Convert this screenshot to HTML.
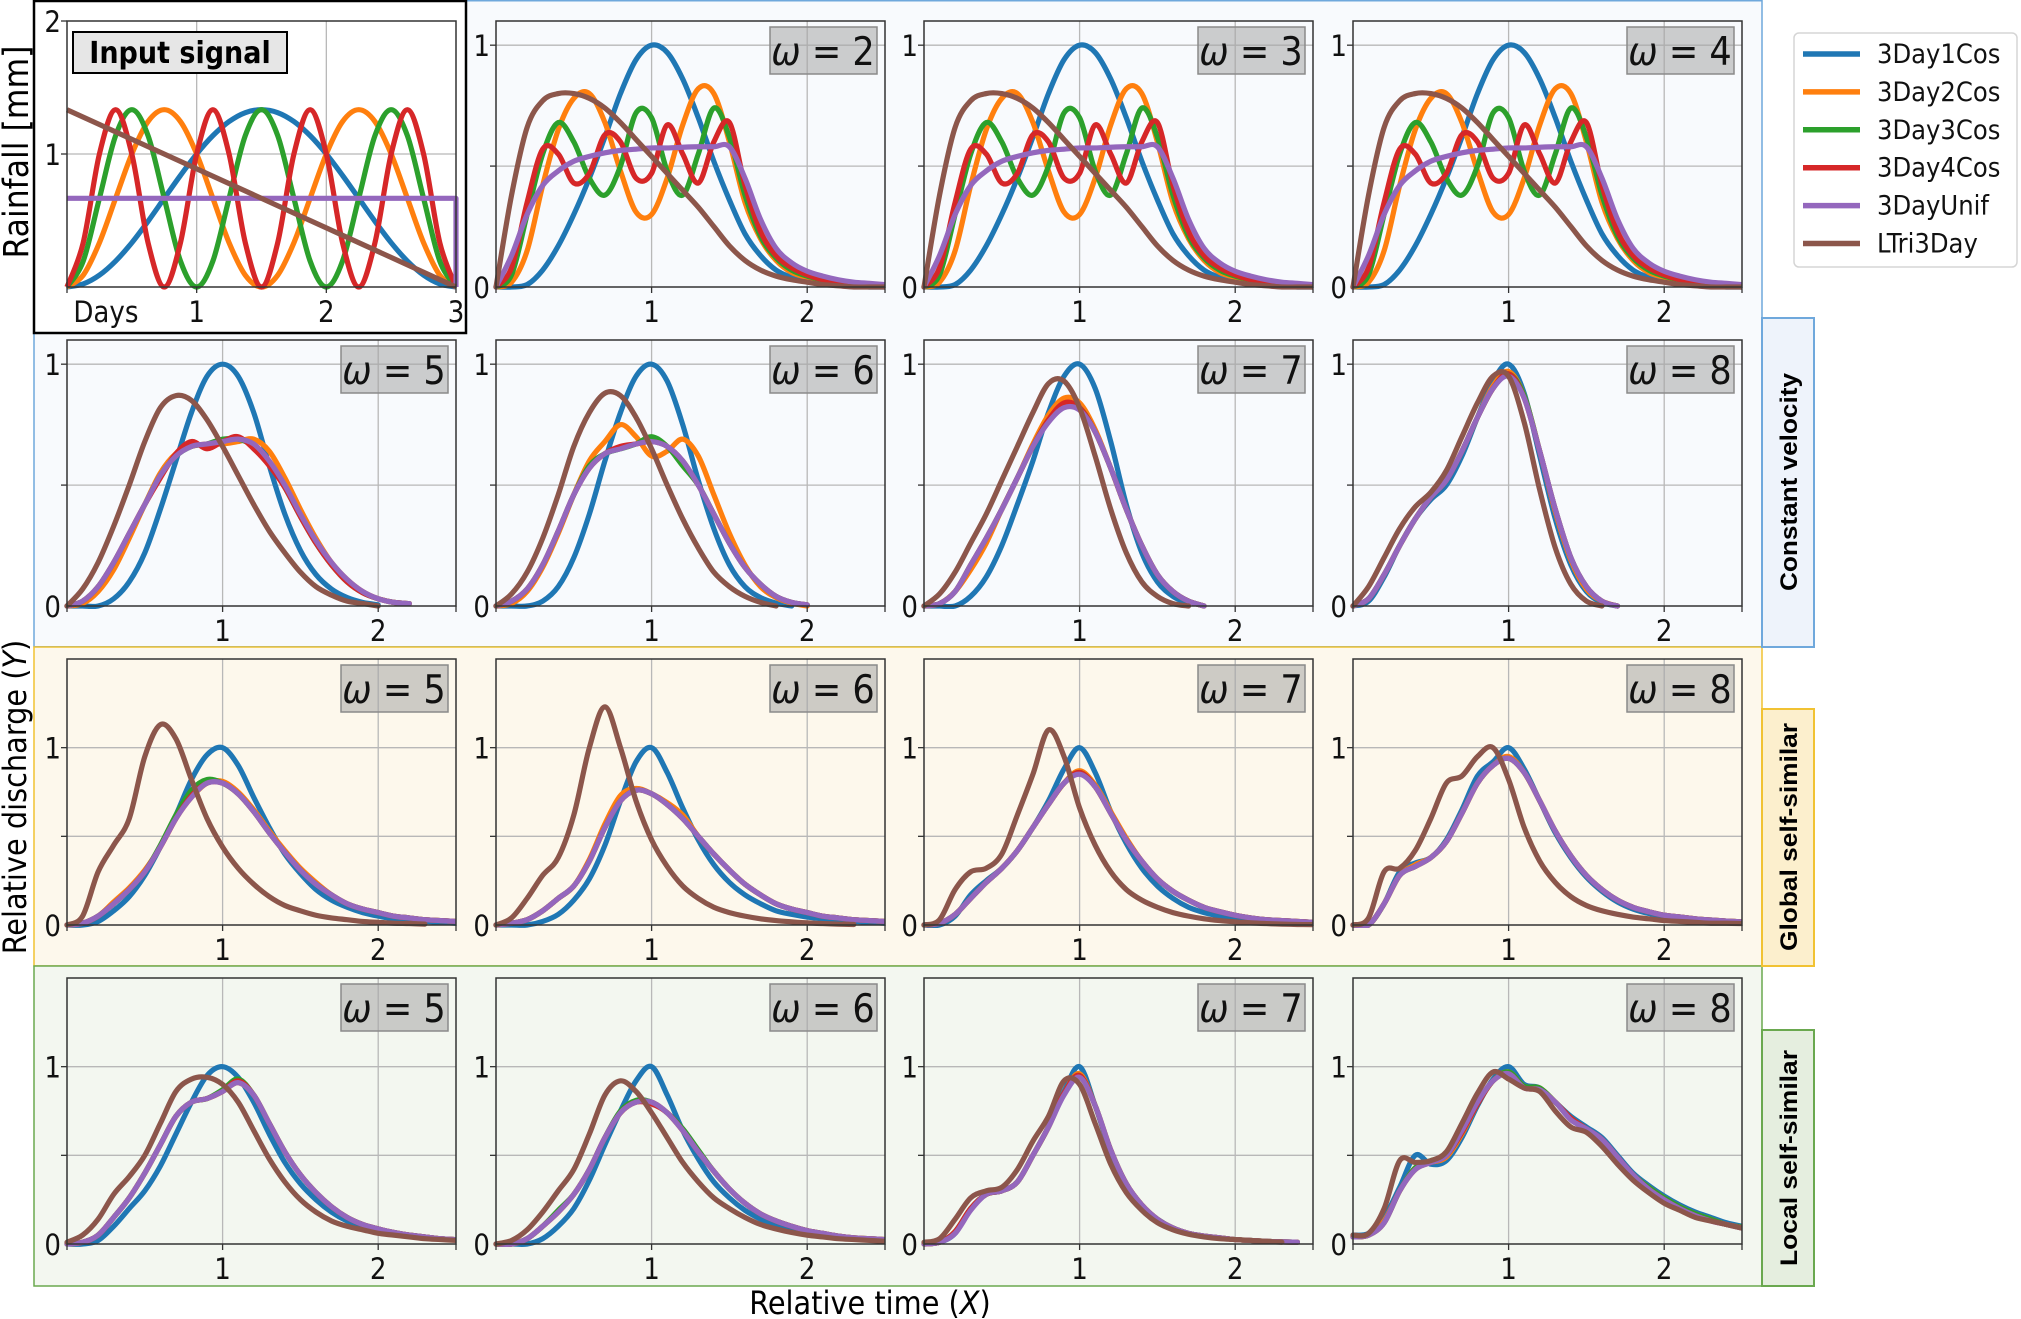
<!DOCTYPE html>
<html><head><meta charset="utf-8"><title>Relative discharge figure</title>
<style>
html,body{margin:0;padding:0;background:#fff;}
svg{display:block;font-family:"DejaVu Sans Condensed","DejaVu Sans","Liberation Sans",sans-serif;}
</style></head>
<body>
<svg id="fig" width="2021" height="1319" viewBox="0 0 2021 1319" xmlns="http://www.w3.org/2000/svg">
  <rect x="0" y="0" width="2021" height="1319" fill="#fff"/>
  <rect x="34" y="0.75" width="1728" height="646" fill="#f8fafd" stroke="#6fa8dc" stroke-width="1.5"/>
  <rect x="34" y="647" width="1728" height="319" fill="#fdf8ec" stroke="#f1c232" stroke-width="1.5"/>
  <rect x="34" y="966" width="1728" height="320" fill="#f3f7f0" stroke="#6aa84f" stroke-width="1.5"/>
  <rect x="34" y="1" width="432" height="332" fill="#fff" stroke="#000" stroke-width="2.5"/>

  <g>
    <rect x="1762" y="318" width="52" height="329" fill="#eef3fb" stroke="#6fa8dc" stroke-width="2"/>
    <text transform="translate(1797,482) rotate(-90)" text-anchor="middle" font-family="Liberation Sans, sans-serif" font-weight="bold" font-size="24" textLength="218" lengthAdjust="spacingAndGlyphs">Constant velocity</text>
  </g>
  <g>
    <rect x="1762" y="709" width="52" height="257" fill="#fcefcd" stroke="#f1c232" stroke-width="2"/>
    <text transform="translate(1797,837) rotate(-90)" text-anchor="middle" font-family="Liberation Sans, sans-serif" font-weight="bold" font-size="24" textLength="228" lengthAdjust="spacingAndGlyphs">Global self-similar</text>
  </g>
  <g>
    <rect x="1762" y="1030" width="52" height="256" fill="#e5eedf" stroke="#6aa84f" stroke-width="2"/>
    <text transform="translate(1797,1158) rotate(-90)" text-anchor="middle" font-family="Liberation Sans, sans-serif" font-weight="bold" font-size="24" textLength="216" lengthAdjust="spacingAndGlyphs">Local self-similar</text>
  </g>

  <text transform="translate(26,797) rotate(-90)" text-anchor="middle" font-size="32">Relative discharge (<tspan font-style="italic">Y</tspan>)</text>
  <text transform="translate(28,152) rotate(-90)" text-anchor="middle" font-size="35">Rainfall [mm]</text>
  <text x="870" y="1314" text-anchor="middle" font-size="32">Relative time (<tspan font-style="italic">X</tspan>)</text>

  <g id="panels"></g>

  <g>
    <rect x="1794" y="33" width="223" height="234" rx="5" fill="#fff" stroke="#d5d5d5" stroke-width="1.5"/>
    <g id="legend-items"></g>
  </g>
</svg>
<script>
// ---------- data ----------
const seriesNames = ['3Day1Cos','3Day2Cos','3Day3Cos','3Day4Cos','3DayUnif','LTri3Day'];
const seriesKeys = ['blue','orange','green','red','purple','brown'];
const seriesColors = ['#1f77b4','#ff7f0e','#2ca02c','#d62728','#9467bd','#8c564b'];

// input signal (days 0..3 step 0.125)
const inX = [0,0.125,0.25,0.375,0.5,0.625,0.75,0.875,1,1.125,1.25,1.375,1.5,1.625,1.75,1.875,2,2.125,2.25,2.375,2.5,2.625,2.75,2.875,3];
const in_blue = [0,.023,.089,.195,.333,.494,.667,.839,1.0,1.138,1.244,1.311,1.333,1.311,1.244,1.138,1.0,.839,.667,.494,.333,.195,.089,.023,0];
const in_orange = [0,.089,.333,.667,1.0,1.244,1.333,1.244,1.0,.667,.333,.089,0,.089,.333,.667,1.0,1.244,1.333,1.244,1.0,.667,.333,.089,0];
const in_green = [0,.195,.667,1.138,1.333,1.138,.667,.195,0,.195,.667,1.138,1.333,1.138,.667,.195,0,.195,.667,1.138,1.333,1.138,.667,.195,0];
const in_red = [0,.333,1.0,1.333,1.0,.333,0,.333,1.0,1.333,1.0,.333,0,.333,1.0,1.333,1.0,.333,0,.333,1.0,1.333,1.0,.333,0];
const in_purple = [.667,.667,.667,.667,.667,.667,.667,.667,.667,.667,.667,.667,.667,.667,.667,.667,.667,.667,.667,.667,.667,.667,.667,.667,.667];
const in_brownX = [0,3];
const in_brown = [1.333,0];

// relative time grid 0..2.5 step 0.1
const xs = [0,.1,.2,.3,.4,.5,.6,.7,.8,.9,1,1.1,1.2,1.3,1.4,1.5,1.6,1.7,1.8,1.9,2,2.1,2.2,2.3,2.4,2.5];

// Row 1 (constant velocity, omega 2-4)
const r1_blue = [0,0,.01,.07,.17,.3,.45,.62,.8,.94,1.0,.97,.86,.7,.52,.36,.22,.13,.07,.04,.025,.015,.01,.005,0,0];
const r1_orange = [0,.02,.15,.42,.65,.78,.8,.68,.48,.31,.3,.45,.67,.82,.8,.6,.35,.2,.11,.06,.04,.025,.015,.01,.005,0];
const r1_green = [0,.05,.3,.55,.68,.6,.45,.38,.5,.72,.7,.48,.38,.55,.74,.62,.38,.21,.12,.07,.045,.03,.02,.012,.006,0];
const r1_red = [0,.08,.35,.57,.55,.43,.47,.63,.6,.45,.47,.67,.55,.43,.6,.68,.42,.23,.13,.08,.05,.03,.02,.012,.006,0];
const r1_purple = [0,.13,.3,.42,.48,.52,.54,.555,.565,.57,.575,.575,.578,.58,.58,.58,.45,.28,.16,.1,.065,.045,.03,.02,.015,.01];
const r1_brown = [0,.38,.66,.77,.8,.8,.78,.74,.68,.61,.54,.47,.4,.33,.25,.17,.11,.07,.045,.03,.02,.01,.005,0,0,0];

// Row 2 (constant velocity, omega 5-8)
const r2w5_blue = [0,0,0,.03,.1,.22,.4,.6,.8,.95,1.0,.95,.8,.58,.38,.23,.13,.07,.035,.015,.005,null,null,null,null,null];
const r2w5_orange = [0,.01,.06,.15,.28,.42,.55,.63,.66,.67,.67,.68,.69,.64,.53,.4,.28,.18,.11,.06,.03,.015,.01,null,null,null];
const r2w5_green = [0,.02,.08,.18,.3,.42,.54,.62,.66,.67,.69,.69,.66,.59,.49,.37,.26,.17,.1,.055,.03,.015,.01,null,null,null];
const r2w5_red = [0,.02,.08,.18,.3,.42,.53,.63,.68,.65,.68,.7,.65,.58,.49,.37,.26,.17,.1,.055,.03,.015,.01,null,null,null];
const r2w5_purple = [0,.02,.08,.18,.3,.42,.54,.62,.66,.67,.68,.69,.67,.6,.5,.38,.27,.18,.11,.06,.03,.015,.01,null,null,null];
const r2w5_brown = [.0,.07,.18,.33,.5,.68,.82,.87,.85,.77,.66,.54,.42,.31,.22,.14,.08,.045,.02,.01,0,null,null,null,null,null];

const r2w6_blue = [0,0,0,.02,.08,.2,.38,.6,.8,.95,1.0,.93,.75,.52,.32,.17,.08,.035,.012,0,null,null,null,null,null,null];
const r2w6_orange = [0,.01,.06,.16,.3,.46,.6,.68,.75,.7,.62,.64,.69,.62,.46,.3,.17,.08,.035,.012,0,null,null,null,null,null];
const r2w6_green = [0,.02,.07,.17,.31,.46,.58,.63,.65,.67,.7,.66,.58,.5,.38,.26,.16,.09,.04,.015,.005,null,null,null,null,null];
const r2w6_red = [0,.02,.07,.17,.31,.46,.57,.63,.66,.67,.68,.66,.6,.5,.38,.26,.16,.09,.04,.015,.005,null,null,null,null,null];
const r2w6_purple = [0,.02,.07,.17,.31,.46,.57,.63,.65,.67,.68,.66,.6,.5,.38,.26,.16,.09,.04,.015,.005,null,null,null,null,null];
const r2w6_brown = [0,.05,.14,.28,.46,.66,.8,.88,.87,.78,.65,.5,.36,.24,.14,.08,.04,.015,0,null,null,null,null,null,null,null];

const r2w7_blue = [0,0,0,.04,.12,.25,.42,.6,.8,.95,1.0,.9,.68,.42,.22,.1,.04,.01,null,null,null,null,null,null,null,null];
const r2w7_orange = [0,.01,.06,.15,.26,.4,.53,.67,.79,.86,.84,.73,.57,.4,.25,.13,.06,.02,0,null,null,null,null,null,null,null];
const r2w7_green = [0,.01,.06,.17,.28,.4,.53,.66,.77,.83,.82,.72,.57,.4,.25,.13,.06,.02,0,null,null,null,null,null,null,null];
const r2w7_red = [0,.01,.06,.17,.28,.4,.53,.66,.77,.84,.82,.72,.57,.4,.25,.13,.06,.02,0,null,null,null,null,null,null,null];
const r2w7_purple = [0,.01,.06,.17,.28,.4,.53,.66,.76,.82,.81,.72,.57,.4,.25,.13,.06,.02,0,null,null,null,null,null,null,null];
const r2w7_brown = [0,.05,.14,.26,.38,.52,.66,.8,.92,.93,.82,.62,.4,.22,.1,.04,.01,0,null,null,null,null,null,null,null,null];

const r2w8_blue = [0,.02,.12,.25,.36,.44,.5,.62,.78,.93,1.0,.88,.62,.36,.17,.06,.015,0,null,null,null,null,null,null,null,null];
const r2w8_orange = [0,.03,.13,.25,.36,.45,.52,.64,.78,.91,.97,.87,.64,.39,.19,.07,.02,0,null,null,null,null,null,null,null,null];
const r2w8_green = [0,.03,.13,.25,.36,.45,.52,.64,.78,.9,.96,.87,.64,.4,.2,.08,.02,0,null,null,null,null,null,null,null,null];
const r2w8_red = [0,.03,.13,.25,.36,.45,.52,.64,.78,.9,.96,.86,.64,.4,.2,.08,.02,0,null,null,null,null,null,null,null,null];
const r2w8_purple = [0,.03,.13,.25,.36,.45,.52,.64,.78,.9,.95,.86,.64,.4,.2,.08,.02,0,null,null,null,null,null,null,null,null];
const r2w8_brown = [0,.08,.2,.32,.41,.47,.56,.7,.84,.95,.95,.76,.48,.24,.09,.02,0,null,null,null,null,null,null,null,null,null];

// Row 3 (global self-similar)
const r3w5_blue = [0,0,.02,.08,.16,.28,.44,.62,.82,.96,1.0,.9,.72,.55,.4,.29,.2,.14,.1,.07,.05,.035,.025,.02,.015,.01];
const r3w5_orange = [0,.01,.05,.13,.21,.31,.44,.6,.72,.8,.81,.75,.65,.53,.42,.32,.24,.17,.12,.09,.07,.05,.04,.03,.025,.02];
const r3w5_green = [0,.01,.05,.12,.2,.3,.45,.62,.76,.82,.8,.74,.64,.52,.41,.31,.23,.17,.12,.09,.07,.05,.04,.03,.025,.02];
const r3w5_red = [0,.01,.05,.12,.2,.3,.44,.6,.73,.8,.8,.74,.64,.52,.41,.31,.23,.17,.12,.09,.07,.05,.04,.03,.025,.02];
const r3w5_purple = [0,.01,.05,.12,.2,.3,.44,.6,.72,.8,.8,.74,.64,.52,.41,.31,.23,.17,.12,.09,.07,.05,.04,.03,.025,.02];
const r3w5_brown = [0,.05,.3,.45,.6,.95,1.13,1.05,.82,.6,.44,.32,.23,.16,.11,.08,.055,.04,.03,.02,.015,.01,.008,.005,null,null];

const r3w6_blue = [0,0,0,.02,.06,.14,.26,.45,.7,.92,1.0,.86,.66,.48,.34,.24,.17,.12,.08,.06,.045,.035,.025,.02,.015,.01];
const r3w6_orange = [0,.01,.03,.08,.15,.22,.37,.57,.73,.77,.74,.69,.62,.5,.4,.31,.23,.17,.12,.09,.07,.05,.04,.03,.025,.02];
const r3w6_green = [0,.01,.03,.08,.15,.22,.36,.55,.7,.76,.74,.68,.6,.5,.4,.31,.23,.17,.12,.09,.07,.05,.04,.03,.025,.02];
const r3w6_red = [0,.01,.03,.08,.15,.22,.36,.55,.7,.76,.74,.68,.6,.5,.4,.31,.23,.17,.12,.09,.07,.05,.04,.03,.025,.02];
const r3w6_purple = [0,.01,.03,.08,.15,.22,.36,.55,.7,.76,.74,.68,.6,.5,.4,.31,.23,.17,.12,.09,.07,.05,.04,.03,.025,.02];
const r3w6_brown = [0,.04,.15,.28,.38,.62,1.0,1.23,1.0,.7,.48,.33,.22,.15,.1,.07,.05,.035,.025,.018,.012,.008,.005,.003,null,null];

const r3w7_blue = [0,0,.05,.17,.25,.32,.42,.55,.7,.88,1.0,.86,.64,.46,.32,.22,.15,.1,.07,.05,.035,.025,.02,.015,.01,.01];
const r3w7_orange = [0,.01,.06,.15,.24,.32,.42,.55,.68,.8,.87,.79,.64,.49,.36,.26,.19,.14,.1,.075,.055,.04,.03,.025,.02,.015];
const r3w7_green = [0,.01,.06,.15,.24,.32,.42,.55,.68,.8,.86,.78,.63,.48,.36,.26,.19,.14,.1,.075,.055,.04,.03,.025,.02,.015];
const r3w7_red = [0,.01,.06,.15,.24,.32,.42,.55,.68,.8,.86,.78,.63,.48,.36,.26,.19,.14,.1,.075,.055,.04,.03,.025,.02,.015];
const r3w7_purple = [0,.01,.06,.15,.24,.32,.42,.55,.68,.8,.85,.78,.63,.48,.36,.26,.19,.14,.1,.075,.055,.04,.03,.025,.02,.015];
const r3w7_brown = [0,.03,.2,.3,.32,.4,.62,.85,1.1,.95,.66,.45,.3,.2,.14,.1,.07,.05,.035,.025,.018,.012,.008,.005,.003,.002];

const r3w8_blue = [0,0,.12,.3,.35,.38,.48,.65,.84,.92,1.0,.88,.7,.52,.38,.27,.19,.13,.09,.065,.05,.04,.03,.025,.02,.015];
const r3w8_orange = [0,0,.12,.28,.34,.38,.47,.63,.8,.9,.95,.86,.7,.53,.39,.28,.2,.14,.1,.075,.055,.045,.035,.028,.022,.018];
const r3w8_green = [0,0,.12,.28,.33,.38,.47,.63,.8,.9,.94,.86,.7,.53,.39,.28,.2,.14,.1,.075,.055,.045,.035,.028,.022,.018];
const r3w8_red = [0,0,.12,.28,.33,.38,.47,.63,.8,.9,.94,.86,.7,.53,.39,.28,.2,.14,.1,.075,.055,.045,.035,.028,.022,.018];
const r3w8_purple = [0,0,.12,.28,.33,.38,.47,.63,.8,.9,.94,.86,.7,.53,.39,.28,.2,.14,.1,.075,.055,.045,.035,.028,.022,.018];
const r3w8_brown = [0,.04,.3,.32,.42,.6,.8,.84,.95,1.0,.82,.55,.36,.24,.16,.11,.08,.06,.045,.035,.025,.02,.015,.01,.01,.008];

// Row 4 (local self-similar)
const r4w5_blue = [0,0,.02,.1,.2,.3,.44,.62,.8,.95,1.0,.94,.8,.62,.46,.34,.25,.18,.13,.1,.08,.06,.05,.04,.03,.025];
const r4w5_orange = [0,.01,.05,.15,.26,.4,.56,.72,.8,.82,.86,.91,.84,.68,.52,.39,.29,.21,.15,.11,.085,.065,.05,.04,.03,.025];
const r4w5_green = [0,.01,.05,.15,.26,.4,.56,.72,.8,.82,.87,.93,.84,.68,.52,.39,.29,.21,.15,.11,.085,.065,.05,.04,.03,.025];
const r4w5_red = [0,.01,.05,.15,.26,.4,.56,.72,.8,.82,.86,.92,.84,.68,.52,.39,.29,.21,.15,.11,.085,.065,.05,.04,.03,.025];
const r4w5_purple = [0,.01,.05,.15,.26,.4,.56,.72,.8,.82,.86,.91,.84,.68,.52,.39,.29,.21,.15,.11,.085,.065,.05,.04,.03,.025];
const r4w5_brown = [.01,.05,.14,.28,.38,.5,.68,.86,.93,.94,.9,.8,.64,.48,.35,.25,.18,.13,.1,.08,.06,.05,.04,.03,.025,.02];

const r4w6_blue = [0,0,0,.03,.1,.2,.36,.56,.75,.92,1.0,.84,.64,.48,.35,.26,.19,.14,.1,.08,.06,.05,.04,.03,.025,.02];
const r4w6_orange = [0,0,.03,.1,.18,.28,.42,.6,.74,.8,.8,.74,.64,.52,.41,.31,.23,.17,.13,.1,.075,.06,.045,.035,.03,.025];
const r4w6_green = [0,0,.03,.1,.19,.28,.42,.6,.75,.81,.8,.74,.65,.53,.41,.31,.23,.17,.13,.1,.075,.06,.045,.035,.03,.025];
const r4w6_red = [0,0,.03,.1,.18,.28,.42,.6,.74,.8,.79,.74,.64,.52,.41,.31,.23,.17,.13,.1,.075,.06,.045,.035,.03,.025];
const r4w6_purple = [0,0,.03,.1,.18,.28,.42,.6,.74,.8,.8,.74,.64,.52,.41,.31,.23,.17,.13,.1,.075,.06,.045,.035,.03,.025];
const r4w6_brown = [0,.02,.08,.18,.3,.42,.62,.84,.92,.86,.74,.6,.46,.35,.26,.2,.15,.11,.085,.065,.05,.04,.03,.025,.02,.015];

const r4w7_blue = [0,.01,.06,.2,.28,.3,.35,.5,.66,.86,1.0,.78,.52,.33,.21,.14,.09,.06,.045,.035,.025,.02,.015,.012,.01,null];
const r4w7_orange = [0,.01,.07,.2,.28,.3,.35,.5,.66,.85,.96,.78,.53,.34,.22,.14,.09,.06,.045,.035,.025,.02,.015,.012,.01,null];
const r4w7_green = [0,.01,.07,.2,.28,.3,.35,.5,.66,.85,.95,.78,.53,.34,.22,.14,.09,.06,.045,.035,.025,.02,.015,.012,.01,null];
const r4w7_red = [0,.01,.07,.2,.28,.3,.35,.5,.66,.85,.95,.78,.53,.34,.22,.14,.09,.06,.045,.035,.025,.02,.015,.012,.01,null];
const r4w7_purple = [0,.01,.06,.19,.28,.3,.35,.5,.66,.84,.94,.78,.53,.34,.22,.14,.09,.06,.045,.035,.025,.02,.015,.012,.01,null];
const r4w7_brown = [.01,.03,.14,.26,.3,.32,.42,.58,.72,.92,.9,.68,.45,.29,.19,.12,.08,.055,.04,.03,.025,.02,.015,.01,null,null];

const r4w8_blue = [.05,.06,.15,.32,.5,.45,.47,.6,.78,.93,1.0,.9,.88,.8,.72,.66,.6,.5,.4,.33,.27,.22,.18,.15,.12,.1];
const r4w8_orange = [.04,.05,.13,.3,.43,.46,.49,.62,.79,.92,.97,.89,.88,.8,.71,.65,.59,.49,.39,.32,.26,.21,.17,.14,.11,.095];
const r4w8_green = [.04,.05,.12,.3,.43,.47,.5,.63,.79,.92,.97,.89,.88,.8,.71,.65,.59,.49,.39,.32,.26,.21,.17,.14,.11,.095];
const r4w8_red = [.04,.05,.12,.3,.42,.46,.5,.63,.79,.92,.96,.88,.87,.8,.71,.65,.59,.49,.39,.31,.25,.2,.16,.13,.11,.09];
const r4w8_purple = [.04,.05,.12,.3,.42,.46,.5,.64,.8,.92,.96,.88,.87,.8,.7,.65,.59,.49,.39,.31,.25,.2,.16,.13,.11,.09];
const r4w8_brown = [.05,.06,.2,.47,.46,.47,.52,.68,.85,.97,.93,.88,.86,.75,.66,.63,.55,.45,.36,.29,.23,.19,.15,.13,.11,.09];

// ---------- layout ----------
const colLeft = [67,496,924,1353];
const rowTop = [21,340,659,978];
const rowYmax = [1.1,1.1,1.5,1.5];
const PW = 389, PH = 266, XMAX = 2.5;
const LW = 5.2;

const panels = [
  {r:0,c:1,w:2,d:[r1_blue,r1_orange,r1_green,r1_red,r1_purple,r1_brown]},
  {r:0,c:2,w:3,d:[r1_blue,r1_orange,r1_green,r1_red,r1_purple,r1_brown]},
  {r:0,c:3,w:4,d:[r1_blue,r1_orange,r1_green,r1_red,r1_purple,r1_brown]},
  {r:1,c:0,w:5,d:[r2w5_blue,r2w5_orange,r2w5_green,r2w5_red,r2w5_purple,r2w5_brown]},
  {r:1,c:1,w:6,d:[r2w6_blue,r2w6_orange,r2w6_green,r2w6_red,r2w6_purple,r2w6_brown]},
  {r:1,c:2,w:7,d:[r2w7_blue,r2w7_orange,r2w7_green,r2w7_red,r2w7_purple,r2w7_brown]},
  {r:1,c:3,w:8,d:[r2w8_blue,r2w8_orange,r2w8_green,r2w8_red,r2w8_purple,r2w8_brown]},
  {r:2,c:0,w:5,d:[r3w5_blue,r3w5_orange,r3w5_green,r3w5_red,r3w5_purple,r3w5_brown]},
  {r:2,c:1,w:6,d:[r3w6_blue,r3w6_orange,r3w6_green,r3w6_red,r3w6_purple,r3w6_brown]},
  {r:2,c:2,w:7,d:[r3w7_blue,r3w7_orange,r3w7_green,r3w7_red,r3w7_purple,r3w7_brown]},
  {r:2,c:3,w:8,d:[r3w8_blue,r3w8_orange,r3w8_green,r3w8_red,r3w8_purple,r3w8_brown]},
  {r:3,c:0,w:5,d:[r4w5_blue,r4w5_orange,r4w5_green,r4w5_red,r4w5_purple,r4w5_brown]},
  {r:3,c:1,w:6,d:[r4w6_blue,r4w6_orange,r4w6_green,r4w6_red,r4w6_purple,r4w6_brown]},
  {r:3,c:2,w:7,d:[r4w7_blue,r4w7_orange,r4w7_green,r4w7_red,r4w7_purple,r4w7_brown]},
  {r:3,c:3,w:8,d:[r4w8_blue,r4w8_orange,r4w8_green,r4w8_red,r4w8_purple,r4w8_brown]}
];

const NS = 'http://www.w3.org/2000/svg';
function mk(tag, attrs, parent){
  const e = document.createElementNS(NS, tag);
  for (const k in attrs) e.setAttribute(k, attrs[k]);
  if (parent) parent.appendChild(e);
  return e;
}
function curvePath(pts){
  if (pts.length < 2) return '';
  let d = 'M' + pts[0][0].toFixed(2) + ',' + pts[0][1].toFixed(2);
  for (let i = 0; i < pts.length - 1; i++){
    const p0 = pts[i-1] || pts[i], p1 = pts[i], p2 = pts[i+1], p3 = pts[i+2] || p2;
    const c1x = p1[0] + (p2[0]-p0[0])/6, c1y = p1[1] + (p2[1]-p0[1])/6;
    const c2x = p2[0] - (p3[0]-p1[0])/6, c2y = p2[1] - (p3[1]-p1[1])/6;
    d += ' C' + c1x.toFixed(2)+','+c1y.toFixed(2)+' '+c2x.toFixed(2)+','+c2y.toFixed(2)+' '+p2[0].toFixed(2)+','+p2[1].toFixed(2);
  }
  return d;
}
const root = document.getElementById('panels');

function drawAxesFrame(g, L, T, xTicks, yTicks, sx, sy){
  xTicks.forEach(v => mk('line',{x1:sx(v),x2:sx(v),y1:T,y2:T+PH,stroke:'#b8b8b8','stroke-width':1.3},g));
  yTicks.forEach(v => mk('line',{x1:L,x2:L+PW,y1:sy(v),y2:sy(v),stroke:'#b8b8b8','stroke-width':1.3},g));
}
function drawTicks(g, L, T, xTicks, yTicks, sx, sy, xLabels, yLabels){
  mk('rect',{x:L,y:T,width:PW,height:PH,fill:'none',stroke:'#333','stroke-width':1.5},g);
  xTicks.forEach(v => mk('line',{x1:sx(v),x2:sx(v),y1:T+PH,y2:T+PH+6,stroke:'#333','stroke-width':1.3},g));
  mk('line',{x1:L,x2:L,y1:T+PH,y2:T+PH+6,stroke:'#333','stroke-width':1.3},g);
  mk('line',{x1:L+PW,x2:L+PW,y1:T+PH,y2:T+PH+6,stroke:'#333','stroke-width':1.3},g);
  yTicks.forEach(v => mk('line',{x1:L-6,x2:L,y1:sy(v),y2:sy(v),stroke:'#333','stroke-width':1.3},g));
  xLabels.forEach(t => {
    const e = mk('text',{x:sx(t.v),y:T+PH+35,'text-anchor':'middle','font-size':29,fill:'#111'},g);
    e.textContent = t.s;
  });
  yLabels.forEach(t => {
    const e = mk('text',{x:L-6,y:sy(t.v)+11,'text-anchor':'end','font-size':29,fill:'#111'},g);
    e.textContent = t.s;
  });
}

// ---------- input signal panel ----------
(function(){
  const L = colLeft[0], T = rowTop[0];
  const sx = v => L + v/3*PW, sy = v => T + PH - v/2*PH;
  const g = mk('g',{},root);
  
  
  drawAxesFrame(g, L, T, [1,2], [1], sx, sy);
  const inData = [in_blue,in_orange,in_green,in_red,in_purple];
  inData.forEach((arr,i) => {
    const pts = arr.map((v,j) => [sx(inX[j]), sy(v)]);
    if (i === 4) pts.push([sx(3), sy(0)]);
    const p = mk('path',{d: i===4 ? 'M'+pts.map(q=>q[0].toFixed(2)+','+q[1].toFixed(2)).join(' L') : curvePath(pts),fill:'none',stroke:seriesColors[i],'stroke-width':LW,'stroke-linejoin':'round'},g);
    
    
  });
  const bp = mk('path',{d:'M'+sx(in_brownX[0])+','+sy(in_brown[0])+' L'+sx(in_brownX[1])+','+sy(in_brown[1]),fill:'none',stroke:seriesColors[5],'stroke-width':LW},g);
  
  
  drawTicks(g, L, T, [1,2], [1,2], sx, sy,
    [{v:0.3,s:'Days'},{v:1,s:'1'},{v:2,s:'2'},{v:3,s:'3'}],
    [{v:1,s:'1'},{v:2,s:'2'}]);
  const box = mk('g',{},g);
  
  
  mk('rect',{x:73,y:32,width:214,height:41,fill:'#e6e6e6',stroke:'#000','stroke-width':2},box);
  const t = mk('text',{x:180,y:63,'text-anchor':'middle','font-size':30,'font-weight':'bold',fill:'#000'},box);
  t.textContent = 'Input signal';
})();

// ---------- discharge panels ----------
panels.forEach(P => {
  const L = colLeft[P.c], T = rowTop[P.r], ym = rowYmax[P.r];
  const sx = v => L + v/XMAX*PW, sy = v => T + PH - v/ym*PH;
  const g = mk('g',{},root);
  
  
  drawAxesFrame(g, L, T, [1,2], [0.5,1], sx, sy);
  const clipId = 'clip' + P.r + P.c;
  const cp = mk('clipPath',{id:clipId},g);
  mk('rect',{x:L-3,y:T,width:PW+3,height:PH+3},cp);
  const lines = mk('g',{'clip-path':'url(#'+clipId+')'},g);
  P.d.forEach((arr,i) => {
    const pts = [];
    arr.forEach((v,j) => { if (v !== null) pts.push([sx(xs[j]), sy(v)]); });
    const p = mk('path',{d:curvePath(pts),fill:'none',stroke:seriesColors[i],'stroke-width':LW,'stroke-linejoin':'round','stroke-linecap':'round'},lines);
    
    
  });
  drawTicks(g, L, T, [1,2], [0.5,1], sx, sy,
    [{v:1,s:'1'},{v:2,s:'2'}],
    [{v:0,s:'0'},{v:1,s:'1'}]);
  const lb = mk('g',{},g);
  
  
  mk('rect',{x:L+PW-115,y:T+6,width:107,height:47,fill:'rgba(165,165,165,0.55)',stroke:'#8a8a8a','stroke-width':1.5},lb);
  const t = mk('text',{x:L+PW-62,y:T+44,'text-anchor':'middle','font-size':39,fill:'#111'},lb);
  t.innerHTML = '<tspan font-style="italic">ω</tspan> = ' + P.w;
});

// ---------- legend ----------
const lg = document.getElementById('legend-items');
seriesNames.forEach((nm,i) => {
  const y = 54 + i*37.9;
  const item = mk('g',{},lg);
  
  
  mk('line',{x1:1803,x2:1860,y1:y,y2:y,stroke:seriesColors[i],'stroke-width':5.5},item);
  const t = mk('text',{x:1877,y:y+9,'font-size':27,fill:'#111'},item);
  t.textContent = nm;
});
</script>
</body></html>
